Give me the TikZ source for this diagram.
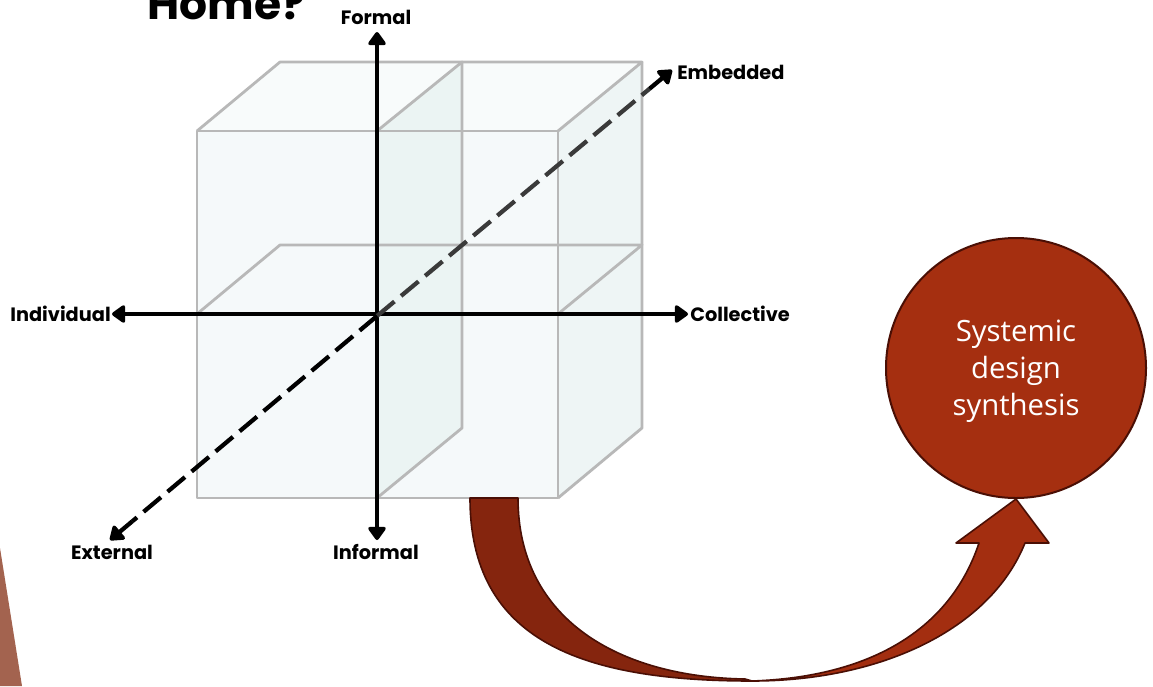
\documentclass[tikz,border=0pt]{standalone}
\usepackage{fontspec}
\newfontfamily\popfont{Poppins}
\newfontfamily\synfont{Open Sans}
\usetikzlibrary{arrows.meta,calc}
\definecolor{cubeedge}{HTML}{B8B8B8}
\definecolor{frontfill}{HTML}{F5F9FA}
\definecolor{topfill}{HTML}{F8FBFB}
\definecolor{sidefill}{HTML}{EEF5F5}
\definecolor{midfill}{HTML}{EBF4F3}
\definecolor{darkarrow}{HTML}{85250E}
\definecolor{brightarrow}{HTML}{A32E10}
\definecolor{arrowedge}{HTML}{4A0F05}
\definecolor{synfill}{HTML}{A52F10}
\definecolor{cornerbrown}{HTML}{A3634F}
\definecolor{diaggray}{HTML}{3A3A3A}
\begin{document}
\begin{tikzpicture}[x=0.75pt,y=-0.75pt,
  cubeline/.style={draw=cubeedge,line width=2.1pt,line join=round},
  axisline/.style={line width=3.2pt,{Triangle[length=11pt,width=15pt,round]}-{Triangle[length=11pt,width=15pt,round]}},
  dashaxis/.style={line width=3.2pt,dash pattern=on 17pt off 6.5pt},
  tipaxis/.style={line width=3.2pt,-{Triangle[length=11pt,width=15pt,round]}},
  lbl/.style={font=\popfont\bfseries\fontsize{14.5}{16}\selectfont,inner sep=0pt},
  bandedge/.style={draw=arrowedge,line width=1.2pt,line join=round}]
\useasboundingbox (0,0) rectangle (1153,686);

% corner decoration
\fill[cornerbrown] (0,548) -- (22,686) -- (0,686) -- cycle;

% title fragment
\node[font=\popfont\bfseries\fontsize{33}{36}\selectfont,anchor=base west,inner sep=0pt] (home) at (147,19) {Home?};

% cube fills
\fill[frontfill] (197,131) rectangle (558,498);
\fill[topfill] (197,131) -- (280,62) -- (642,62) -- (558,131) -- cycle;
\fill[sidefill] (558,131) -- (642,62) -- (642,428) -- (558,498) -- cycle;
\fill[midfill] (377,131) -- (462,62) -- (462,428) -- (377,498) -- cycle;

% cube edges
\draw[cubeline] (197,131) rectangle (558,498);
\draw[cubeline] (197,131) -- (280,62) -- (642,62) -- (558,131);
\draw[cubeline] (642,62) -- (642,428) -- (558,498);
\draw[cubeline] (377,131) -- (462,62) -- (462,428) -- (377,498);
\draw[cubeline] (197,314) -- (280,245) -- (642,245) -- (558,314);

% axes
\coordinate (O) at (377,314);
\coordinate (up) at (377,32);
\coordinate (down) at (377,540);
\coordinate (left) at (112,314);
\coordinate (right) at (688,314);
\coordinate (emb) at (672,70);
\coordinate (ext) at (110,540);
\coordinate (Od) at (377,316);
\coordinate (embtip) at ($(emb)!22pt!(Od)$);
\coordinate (exttip) at ($(ext)!22pt!(Od)$);

\draw[axisline] (down) -- (up);
\draw[axisline] (left) -- (right);
\draw[dashaxis,diaggray] (Od) -- (embtip);
\draw[tipaxis,black] (embtip) -- (emb);
\draw[dashaxis,black] (Od) -- (exttip);
\draw[tipaxis,black] (exttip) -- (ext);

% labels
\node[lbl] (formal) at (376,17) {Formal};
\node[lbl] (informal) at (376,552) {Informal};
\node[lbl,anchor=east] (individual) at (111,314) {Individual};
\node[lbl,anchor=west] (collective) at (690,314) {Collective};
\node[lbl,anchor=west] (embedded) at (677,72) {Embedded};
\node[lbl] (external) at (112,552) {External};

% curved arrow: dark back part
\path[fill=darkarrow,bandedge]
  (470,498) .. controls (470,640) and (580,681) .. (752,681)
  -- (745,679)
  .. controls (620,677) and (518,620) .. (518,498) -- cycle;
% curved arrow: bright front part with head
\path[fill=brightarrow,bandedge]
  (752,681) .. controls (880,681) and (990,630) .. (1025,543)
  -- (1049,543) -- (1016,499) -- (956,543) -- (979,543)
  .. controls (950,630) and (870,677) .. (752,681) -- cycle;

% synthesis circle
\node[circle,draw=arrowedge,line width=1.5pt,fill=synfill,minimum size=195pt,inner sep=0pt] (syn) at (1016,368) {};
\node[text=white,align=center,inner sep=0pt,font=\synfont\fontsize{22}{27.75}\selectfont] (syntext) at (1016,371)
  {Systemic\\design\\synthesis};
\end{tikzpicture}
\end{document}
